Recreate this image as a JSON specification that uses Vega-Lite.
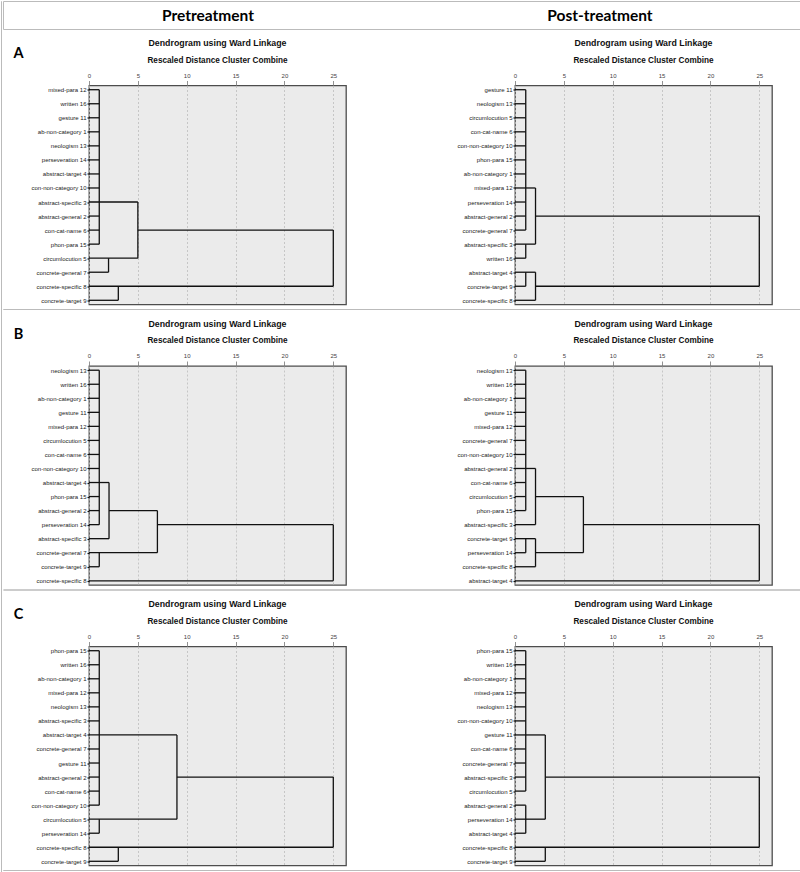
{
"$schema": "https://vega.github.io/schema/vega-lite/v6.json",
"padding": 0,
"background": "white",
"spacing": 0,
"config": {
  "view": {"fill": "#ebebeb", "stroke": "#4d4d4d", "strokeWidth": 1.3},
  "title": {"font": "Liberation Sans", "fontSize": 8.8, "fontWeight": "bold", "color": "#111", "subtitleFont": "Liberation Sans", "subtitleFontSize": 8.2, "subtitleFontWeight": "bold", "subtitleColor": "#111", "subtitlePadding": 9, "offset": 8, "anchor": "middle"},
  "axisX": {"title": null, "domain": false, "ticks": true, "tickSize": 5, "tickColor": "#777", "tickWidth": 0.8, "labelFont": "Liberation Sans", "labelFontSize": 6, "labelColor": "#444", "labelPadding": 2.5, "grid": true, "gridColor": "#bdbdbd", "gridDash": [2, 2], "gridWidth": 0.8, "labelFlush": false},
  "axisY": {"title": null, "domain": false, "ticks": true, "tickSize": 2, "tickColor": "#111", "tickWidth": 1.2, "labelFont": "Liberation Sans", "labelFontSize": 6, "labelColor": "#222", "labelPadding": 1, "grid": false}
},
"datasets": {
  "Apre": [
    {"from": 0, "to": 1.05, "a": "mixed-para 12", "b": "mixed-para 12"},
    {"from": 0, "to": 1.05, "a": "written 16", "b": "written 16"},
    {"from": 0, "to": 1.05, "a": "gesture 11", "b": "gesture 11"},
    {"from": 0, "to": 1.05, "a": "ab-non-category 1", "b": "ab-non-category 1"},
    {"from": 0, "to": 1.05, "a": "neologism 13", "b": "neologism 13"},
    {"from": 0, "to": 1.05, "a": "perseveration 14", "b": "perseveration 14"},
    {"from": 0, "to": 1.05, "a": "abstract-target 4", "b": "abstract-target 4"},
    {"from": 0, "to": 1.05, "a": "con-non-category 10", "b": "con-non-category 10"},
    {"from": 0, "to": 5, "a": "abstract-specific 3", "b": "abstract-specific 3"},
    {"from": 0, "to": 1.05, "a": "abstract-general 2", "b": "abstract-general 2"},
    {"from": 0, "to": 1.05, "a": "con-cat-name 6", "b": "con-cat-name 6"},
    {"from": 0, "to": 1.05, "a": "phon-para 15", "b": "phon-para 15"},
    {"from": 1.05, "to": 1.05, "a": "mixed-para 12", "b": "phon-para 15"},
    {"from": 0, "to": 5, "a": "circumlocution 5", "b": "circumlocution 5"},
    {"from": 0, "to": 2, "a": "concrete-general 7", "b": "concrete-general 7"},
    {"from": 2, "to": 2, "a": "circumlocution 5", "b": "concrete-general 7"},
    {"from": 5, "to": 5, "a": "abstract-specific 3", "b": "circumlocution 5"},
    {"from": 5, "to": 25, "a": "con-cat-name 6", "b": "con-cat-name 6"},
    {"from": 0, "to": 25, "a": "concrete-specific 8", "b": "concrete-specific 8"},
    {"from": 0, "to": 3, "a": "concrete-target 9", "b": "concrete-target 9"},
    {"from": 3, "to": 3, "a": "concrete-specific 8", "b": "concrete-target 9"},
    {"from": 25, "to": 25, "a": "con-cat-name 6", "b": "concrete-specific 8"}
  ],
  "Apost": [
    {"from": 0, "to": 1.1, "a": "gesture 11", "b": "gesture 11"},
    {"from": 0, "to": 1.1, "a": "neologism 13", "b": "neologism 13"},
    {"from": 0, "to": 1.1, "a": "circumlocution 5", "b": "circumlocution 5"},
    {"from": 0, "to": 1.1, "a": "con-cat-name 6", "b": "con-cat-name 6"},
    {"from": 0, "to": 1.1, "a": "con-non-category 10", "b": "con-non-category 10"},
    {"from": 0, "to": 1.1, "a": "phon-para 15", "b": "phon-para 15"},
    {"from": 0, "to": 1.1, "a": "ab-non-category 1", "b": "ab-non-category 1"},
    {"from": 0, "to": 2.1, "a": "mixed-para 12", "b": "mixed-para 12"},
    {"from": 0, "to": 1.1, "a": "perseveration 14", "b": "perseveration 14"},
    {"from": 0, "to": 1.1, "a": "abstract-general 2", "b": "abstract-general 2"},
    {"from": 2.1, "to": 25, "a": "abstract-general 2", "b": "abstract-general 2"},
    {"from": 0, "to": 1.1, "a": "concrete-general 7", "b": "concrete-general 7"},
    {"from": 1.1, "to": 1.1, "a": "gesture 11", "b": "concrete-general 7"},
    {"from": 0, "to": 2.1, "a": "abstract-specific 3", "b": "abstract-specific 3"},
    {"from": 0, "to": 1.1, "a": "written 16", "b": "written 16"},
    {"from": 1.1, "to": 1.1, "a": "abstract-specific 3", "b": "written 16"},
    {"from": 2.1, "to": 2.1, "a": "mixed-para 12", "b": "abstract-specific 3"},
    {"from": 0, "to": 2.1, "a": "abstract-target 4", "b": "abstract-target 4"},
    {"from": 0, "to": 1.1, "a": "concrete-target 9", "b": "concrete-target 9"},
    {"from": 2.1, "to": 25, "a": "concrete-target 9", "b": "concrete-target 9"},
    {"from": 1.1, "to": 1.1, "a": "abstract-target 4", "b": "concrete-target 9"},
    {"from": 0, "to": 2.1, "a": "concrete-specific 8", "b": "concrete-specific 8"},
    {"from": 2.1, "to": 2.1, "a": "abstract-target 4", "b": "concrete-specific 8"},
    {"from": 25, "to": 25, "a": "abstract-general 2", "b": "concrete-target 9"}
  ],
  "Bpre": [
    {"from": 0, "to": 1.05, "a": "neologism 13", "b": "neologism 13"},
    {"from": 0, "to": 1.05, "a": "written 16", "b": "written 16"},
    {"from": 0, "to": 1.05, "a": "ab-non-category 1", "b": "ab-non-category 1"},
    {"from": 0, "to": 1.05, "a": "gesture 11", "b": "gesture 11"},
    {"from": 0, "to": 1.05, "a": "mixed-para 12", "b": "mixed-para 12"},
    {"from": 0, "to": 1.05, "a": "circumlocution 5", "b": "circumlocution 5"},
    {"from": 0, "to": 1.05, "a": "con-cat-name 6", "b": "con-cat-name 6"},
    {"from": 0, "to": 1.05, "a": "con-non-category 10", "b": "con-non-category 10"},
    {"from": 0, "to": 2.05, "a": "abstract-target 4", "b": "abstract-target 4"},
    {"from": 0, "to": 1.05, "a": "phon-para 15", "b": "phon-para 15"},
    {"from": 0, "to": 1.05, "a": "abstract-general 2", "b": "abstract-general 2"},
    {"from": 0, "to": 1.05, "a": "perseveration 14", "b": "perseveration 14"},
    {"from": 1.05, "to": 1.05, "a": "neologism 13", "b": "perseveration 14"},
    {"from": 0, "to": 2.05, "a": "abstract-specific 3", "b": "abstract-specific 3"},
    {"from": 2.05, "to": 2.05, "a": "abstract-target 4", "b": "abstract-specific 3"},
    {"from": 2.05, "to": 7, "a": "abstract-general 2", "b": "abstract-general 2"},
    {"from": 0, "to": 7, "a": "concrete-general 7", "b": "concrete-general 7"},
    {"from": 0, "to": 1.05, "a": "concrete-target 9", "b": "concrete-target 9"},
    {"from": 1.05, "to": 1.05, "a": "concrete-general 7", "b": "concrete-target 9"},
    {"from": 7, "to": 7, "a": "abstract-general 2", "b": "concrete-general 7"},
    {"from": 7, "to": 25, "a": "perseveration 14", "b": "perseveration 14"},
    {"from": 0, "to": 25, "a": "concrete-specific 8", "b": "concrete-specific 8"},
    {"from": 25, "to": 25, "a": "perseveration 14", "b": "concrete-specific 8"}
  ],
  "Bpost": [
    {"from": 0, "to": 1.1, "a": "neologism 13", "b": "neologism 13"},
    {"from": 0, "to": 1.1, "a": "written 16", "b": "written 16"},
    {"from": 0, "to": 1.1, "a": "ab-non-category 1", "b": "ab-non-category 1"},
    {"from": 0, "to": 1.1, "a": "gesture 11", "b": "gesture 11"},
    {"from": 0, "to": 1.1, "a": "mixed-para 12", "b": "mixed-para 12"},
    {"from": 0, "to": 1.1, "a": "concrete-general 7", "b": "concrete-general 7"},
    {"from": 0, "to": 1.1, "a": "con-non-category 10", "b": "con-non-category 10"},
    {"from": 0, "to": 2.1, "a": "abstract-general 2", "b": "abstract-general 2"},
    {"from": 0, "to": 1.1, "a": "con-cat-name 6", "b": "con-cat-name 6"},
    {"from": 0, "to": 1.1, "a": "circumlocution 5", "b": "circumlocution 5"},
    {"from": 0, "to": 1.1, "a": "phon-para 15", "b": "phon-para 15"},
    {"from": 1.1, "to": 1.1, "a": "neologism 13", "b": "phon-para 15"},
    {"from": 0, "to": 2.1, "a": "abstract-specific 3", "b": "abstract-specific 3"},
    {"from": 7, "to": 25, "a": "abstract-specific 3", "b": "abstract-specific 3"},
    {"from": 2.1, "to": 2.1, "a": "abstract-general 2", "b": "abstract-specific 3"},
    {"from": 2.1, "to": 7, "a": "circumlocution 5", "b": "circumlocution 5"},
    {"from": 0, "to": 2.1, "a": "concrete-target 9", "b": "concrete-target 9"},
    {"from": 0, "to": 1.1, "a": "perseveration 14", "b": "perseveration 14"},
    {"from": 2.1, "to": 7, "a": "perseveration 14", "b": "perseveration 14"},
    {"from": 1.1, "to": 1.1, "a": "concrete-target 9", "b": "perseveration 14"},
    {"from": 0, "to": 2.1, "a": "concrete-specific 8", "b": "concrete-specific 8"},
    {"from": 2.1, "to": 2.1, "a": "concrete-target 9", "b": "concrete-specific 8"},
    {"from": 7, "to": 7, "a": "circumlocution 5", "b": "perseveration 14"},
    {"from": 0, "to": 25, "a": "abstract-target 4", "b": "abstract-target 4"},
    {"from": 25, "to": 25, "a": "abstract-specific 3", "b": "abstract-target 4"}
  ],
  "Cpre": [
    {"from": 0, "to": 1.05, "a": "phon-para 15", "b": "phon-para 15"},
    {"from": 0, "to": 1.05, "a": "written 16", "b": "written 16"},
    {"from": 0, "to": 1.05, "a": "ab-non-category 1", "b": "ab-non-category 1"},
    {"from": 0, "to": 1.05, "a": "mixed-para 12", "b": "mixed-para 12"},
    {"from": 0, "to": 1.05, "a": "neologism 13", "b": "neologism 13"},
    {"from": 0, "to": 1.05, "a": "abstract-specific 3", "b": "abstract-specific 3"},
    {"from": 0, "to": 9, "a": "abstract-target 4", "b": "abstract-target 4"},
    {"from": 0, "to": 1.05, "a": "concrete-general 7", "b": "concrete-general 7"},
    {"from": 0, "to": 1.05, "a": "gesture 11", "b": "gesture 11"},
    {"from": 0, "to": 1.05, "a": "abstract-general 2", "b": "abstract-general 2"},
    {"from": 0, "to": 1.05, "a": "con-cat-name 6", "b": "con-cat-name 6"},
    {"from": 0, "to": 1.05, "a": "con-non-category 10", "b": "con-non-category 10"},
    {"from": 1.05, "to": 1.05, "a": "phon-para 15", "b": "con-non-category 10"},
    {"from": 0, "to": 9, "a": "circumlocution 5", "b": "circumlocution 5"},
    {"from": 0, "to": 1.05, "a": "perseveration 14", "b": "perseveration 14"},
    {"from": 1.05, "to": 1.05, "a": "circumlocution 5", "b": "perseveration 14"},
    {"from": 9, "to": 9, "a": "abstract-target 4", "b": "circumlocution 5"},
    {"from": 9, "to": 25, "a": "abstract-general 2", "b": "abstract-general 2"},
    {"from": 0, "to": 25, "a": "concrete-specific 8", "b": "concrete-specific 8"},
    {"from": 0, "to": 3, "a": "concrete-target 9", "b": "concrete-target 9"},
    {"from": 3, "to": 3, "a": "concrete-specific 8", "b": "concrete-target 9"},
    {"from": 25, "to": 25, "a": "abstract-general 2", "b": "concrete-specific 8"}
  ],
  "Cpost": [
    {"from": 0, "to": 1.1, "a": "phon-para 15", "b": "phon-para 15"},
    {"from": 0, "to": 1.1, "a": "written 16", "b": "written 16"},
    {"from": 0, "to": 1.1, "a": "ab-non-category 1", "b": "ab-non-category 1"},
    {"from": 0, "to": 1.1, "a": "mixed-para 12", "b": "mixed-para 12"},
    {"from": 0, "to": 1.1, "a": "neologism 13", "b": "neologism 13"},
    {"from": 0, "to": 1.1, "a": "con-non-category 10", "b": "con-non-category 10"},
    {"from": 0, "to": 3.1, "a": "gesture 11", "b": "gesture 11"},
    {"from": 0, "to": 1.1, "a": "con-cat-name 6", "b": "con-cat-name 6"},
    {"from": 0, "to": 1.1, "a": "concrete-general 7", "b": "concrete-general 7"},
    {"from": 0, "to": 1.1, "a": "abstract-specific 3", "b": "abstract-specific 3"},
    {"from": 0, "to": 1.1, "a": "circumlocution 5", "b": "circumlocution 5"},
    {"from": 1.1, "to": 1.1, "a": "phon-para 15", "b": "circumlocution 5"},
    {"from": 0, "to": 1.1, "a": "abstract-general 2", "b": "abstract-general 2"},
    {"from": 0, "to": 3.1, "a": "perseveration 14", "b": "perseveration 14"},
    {"from": 0, "to": 1.1, "a": "abstract-target 4", "b": "abstract-target 4"},
    {"from": 1.1, "to": 1.1, "a": "abstract-general 2", "b": "abstract-target 4"},
    {"from": 3.1, "to": 3.1, "a": "gesture 11", "b": "perseveration 14"},
    {"from": 3.1, "to": 25, "a": "abstract-specific 3", "b": "abstract-specific 3"},
    {"from": 0, "to": 25, "a": "concrete-specific 8", "b": "concrete-specific 8"},
    {"from": 0, "to": 3.1, "a": "concrete-target 9", "b": "concrete-target 9"},
    {"from": 3.1, "to": 3.1, "a": "concrete-specific 8", "b": "concrete-target 9"},
    {"from": 25, "to": 25, "a": "abstract-specific 3", "b": "concrete-specific 8"}
  ]
},
"hconcat": [
  {"width": 0.01, "height": 871, "data": {"values": []}, "mark": "text", "encoding": {}, "view": {"stroke": "#bbbbbb", "fill": null, "strokeWidth": 1}},
  {
    "spacing": 7.5,
    "vconcat": [
      {
        "width": 797, "height": 28,
        "view": {"stroke": "#bbbbbb", "fill": "white", "strokeWidth": 1},
        "data": {"values": [{"h": "Pretreatment"}, {"h": "Post-treatment"}]},
        "mark": {"type": "text", "font": "Lato", "fontSize": 15.5, "fontWeight": "bold", "color": "#000", "baseline": "middle", "dy": 1},
        "encoding": {
          "x": {"field": "h", "type": "nominal", "axis": null, "scale": {"type": "band", "domain": ["Pretreatment", "Post-treatment"], "range": [9, 793]}},
          "text": {"field": "h"}
        }
      },
      {
        "spacing": 2.5,
        "vconcat": [
          {
            "spacing": 6,
            "hconcat": [
              {"width": 20, "height": 219, "view": {"stroke": null, "fill": null}, "title": {"text": "A", "font": "Lato", "fontSize": 14.5, "fontWeight": "bold", "color": "#000", "offset": 24, "dx": 5.5, "anchor": "middle"}, "data": {"values": []}, "mark": "text", "encoding": {}},
              {
                "width": 257, "height": 219,
                "title": {"text": "Dendrogram using Ward Linkage", "subtitle": "Rescaled Distance Cluster Combine"},
                "data": {"name": "Apre"},
                "mark": {"type": "rule", "color": "#111", "strokeWidth": 1.3},
                "encoding": {
                  "x": {"field": "from", "type": "quantitative", "scale": {"domain": [0, 26.3], "nice": false, "zero": false}, "axis": {"orient": "top", "values": [0, 5, 10, 15, 20, 25]}},
                  "x2": {"field": "to"},
                  "y": {"field": "a", "type": "nominal", "scale": {"type": "point", "padding": 0.3, "domain": ["mixed-para 12","written 16","gesture 11","ab-non-category 1","neologism 13","perseveration 14","abstract-target 4","con-non-category 10","abstract-specific 3","abstract-general 2","con-cat-name 6","phon-para 15","circumlocution 5","concrete-general 7","concrete-specific 8","concrete-target 9"]}, "axis": {"orient": "left"}},
                  "y2": {"field": "b"}
                }
              },
              {"width": 97, "height": 10, "view": {"stroke": null, "fill": null}, "data": {"values": []}, "mark": "text", "encoding": {}},
              {
                "width": 257, "height": 219,
                "title": {"text": "Dendrogram using Ward Linkage", "subtitle": "Rescaled Distance Cluster Combine"},
                "data": {"name": "Apost"},
                "mark": {"type": "rule", "color": "#111", "strokeWidth": 1.3},
                "encoding": {
                  "x": {"field": "from", "type": "quantitative", "scale": {"domain": [0, 26.3], "nice": false, "zero": false}, "axis": {"orient": "top", "values": [0, 5, 10, 15, 20, 25]}},
                  "x2": {"field": "to"},
                  "y": {"field": "a", "type": "nominal", "scale": {"type": "point", "padding": 0.3, "domain": ["gesture 11","neologism 13","circumlocution 5","con-cat-name 6","con-non-category 10","phon-para 15","ab-non-category 1","mixed-para 12","perseveration 14","abstract-general 2","concrete-general 7","abstract-specific 3","written 16","abstract-target 4","concrete-target 9","concrete-specific 8"]}, "axis": {"orient": "left"}},
                  "y2": {"field": "b"}
                }
              }
            ]
          },
          {"width": 797, "height": 0.01, "view": {"stroke": "#bbbbbb", "fill": null, "strokeWidth": 1}, "data": {"values": []}, "mark": "text", "encoding": {}}
        ]
      },
      {
        "spacing": 2.5,
        "vconcat": [
          {
            "spacing": 6,
            "hconcat": [
              {"width": 20, "height": 219, "view": {"stroke": null, "fill": null}, "title": {"text": "B", "font": "Lato", "fontSize": 14.5, "fontWeight": "bold", "color": "#000", "offset": 24, "dx": 5.5, "anchor": "middle"}, "data": {"values": []}, "mark": "text", "encoding": {}},
              {
                "width": 257, "height": 219,
                "title": {"text": "Dendrogram using Ward Linkage", "subtitle": "Rescaled Distance Cluster Combine"},
                "data": {"name": "Bpre"},
                "mark": {"type": "rule", "color": "#111", "strokeWidth": 1.3},
                "encoding": {
                  "x": {"field": "from", "type": "quantitative", "scale": {"domain": [0, 26.3], "nice": false, "zero": false}, "axis": {"orient": "top", "values": [0, 5, 10, 15, 20, 25]}},
                  "x2": {"field": "to"},
                  "y": {"field": "a", "type": "nominal", "scale": {"type": "point", "padding": 0.3, "domain": ["neologism 13","written 16","ab-non-category 1","gesture 11","mixed-para 12","circumlocution 5","con-cat-name 6","con-non-category 10","abstract-target 4","phon-para 15","abstract-general 2","perseveration 14","abstract-specific 3","concrete-general 7","concrete-target 9","concrete-specific 8"]}, "axis": {"orient": "left"}},
                  "y2": {"field": "b"}
                }
              },
              {"width": 97, "height": 10, "view": {"stroke": null, "fill": null}, "data": {"values": []}, "mark": "text", "encoding": {}},
              {
                "width": 257, "height": 219,
                "title": {"text": "Dendrogram using Ward Linkage", "subtitle": "Rescaled Distance Cluster Combine"},
                "data": {"name": "Bpost"},
                "mark": {"type": "rule", "color": "#111", "strokeWidth": 1.3},
                "encoding": {
                  "x": {"field": "from", "type": "quantitative", "scale": {"domain": [0, 26.3], "nice": false, "zero": false}, "axis": {"orient": "top", "values": [0, 5, 10, 15, 20, 25]}},
                  "x2": {"field": "to"},
                  "y": {"field": "a", "type": "nominal", "scale": {"type": "point", "padding": 0.3, "domain": ["neologism 13","written 16","ab-non-category 1","gesture 11","mixed-para 12","concrete-general 7","con-non-category 10","abstract-general 2","con-cat-name 6","circumlocution 5","phon-para 15","abstract-specific 3","concrete-target 9","perseveration 14","concrete-specific 8","abstract-target 4"]}, "axis": {"orient": "left"}},
                  "y2": {"field": "b"}
                }
              }
            ]
          },
          {"width": 797, "height": 0.01, "view": {"stroke": "#bbbbbb", "fill": null, "strokeWidth": 1}, "data": {"values": []}, "mark": "text", "encoding": {}}
        ]
      },
      {
        "spacing": 2.5,
        "vconcat": [
          {
            "spacing": 6,
            "hconcat": [
              {"width": 20, "height": 219, "view": {"stroke": null, "fill": null}, "title": {"text": "C", "font": "Lato", "fontSize": 14.5, "fontWeight": "bold", "color": "#000", "offset": 24, "dx": 5.5, "anchor": "middle"}, "data": {"values": []}, "mark": "text", "encoding": {}},
              {
                "width": 257, "height": 219,
                "title": {"text": "Dendrogram using Ward Linkage", "subtitle": "Rescaled Distance Cluster Combine"},
                "data": {"name": "Cpre"},
                "mark": {"type": "rule", "color": "#111", "strokeWidth": 1.3},
                "encoding": {
                  "x": {"field": "from", "type": "quantitative", "scale": {"domain": [0, 26.3], "nice": false, "zero": false}, "axis": {"orient": "top", "values": [0, 5, 10, 15, 20, 25]}},
                  "x2": {"field": "to"},
                  "y": {"field": "a", "type": "nominal", "scale": {"type": "point", "padding": 0.3, "domain": ["phon-para 15","written 16","ab-non-category 1","mixed-para 12","neologism 13","abstract-specific 3","abstract-target 4","concrete-general 7","gesture 11","abstract-general 2","con-cat-name 6","con-non-category 10","circumlocution 5","perseveration 14","concrete-specific 8","concrete-target 9"]}, "axis": {"orient": "left"}},
                  "y2": {"field": "b"}
                }
              },
              {"width": 97, "height": 10, "view": {"stroke": null, "fill": null}, "data": {"values": []}, "mark": "text", "encoding": {}},
              {
                "width": 257, "height": 219,
                "title": {"text": "Dendrogram using Ward Linkage", "subtitle": "Rescaled Distance Cluster Combine"},
                "data": {"name": "Cpost"},
                "mark": {"type": "rule", "color": "#111", "strokeWidth": 1.3},
                "encoding": {
                  "x": {"field": "from", "type": "quantitative", "scale": {"domain": [0, 26.3], "nice": false, "zero": false}, "axis": {"orient": "top", "values": [0, 5, 10, 15, 20, 25]}},
                  "x2": {"field": "to"},
                  "y": {"field": "a", "type": "nominal", "scale": {"type": "point", "padding": 0.3, "domain": ["phon-para 15","written 16","ab-non-category 1","mixed-para 12","neologism 13","con-non-category 10","gesture 11","con-cat-name 6","concrete-general 7","abstract-specific 3","circumlocution 5","abstract-general 2","perseveration 14","abstract-target 4","concrete-specific 8","concrete-target 9"]}, "axis": {"orient": "left"}},
                  "y2": {"field": "b"}
                }
              }
            ]
          },
          {"width": 797, "height": 0.01, "view": {"stroke": "#bbbbbb", "fill": null, "strokeWidth": 1}, "data": {"values": []}, "mark": "text", "encoding": {}}
        ]
      }
    ]
  },
  {"width": 0.01, "height": 871, "data": {"values": []}, "mark": "text", "encoding": {}, "view": {"stroke": "#bbbbbb", "fill": null, "strokeWidth": 1}}
]
}
